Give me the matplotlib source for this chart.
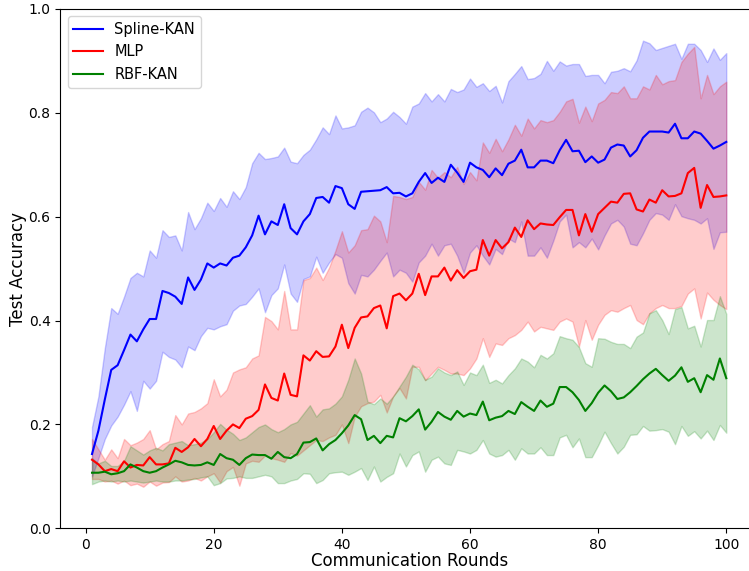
import numpy as np
import matplotlib
matplotlib.use("Agg")
import matplotlib.pyplot as plt

rounds = np.arange(1, 101)

# Spline-KAN
spline_mean = [0.143, 0.188, 0.248, 0.305, 0.314, 0.343, 0.373, 0.360, 0.383, 0.403,
               0.403, 0.457, 0.453, 0.446, 0.432, 0.483, 0.459, 0.479, 0.510, 0.502,
               0.510, 0.506, 0.521, 0.525, 0.541, 0.564, 0.602, 0.566, 0.591, 0.584,
               0.624, 0.578, 0.566, 0.591, 0.605, 0.636, 0.638, 0.627, 0.659, 0.655,
               0.624, 0.615, 0.648, 0.649, 0.650, 0.651, 0.657, 0.645, 0.646, 0.639,
               0.645, 0.667, 0.684, 0.665, 0.675, 0.667, 0.700, 0.685, 0.667, 0.704,
               0.695, 0.690, 0.676, 0.693, 0.680, 0.702, 0.708, 0.729, 0.695, 0.695,
               0.708, 0.708, 0.703, 0.728, 0.748, 0.726, 0.727, 0.705, 0.716, 0.704,
               0.710, 0.733, 0.739, 0.737, 0.716, 0.728, 0.752, 0.764, 0.764, 0.764,
               0.762, 0.779, 0.751, 0.751, 0.764, 0.760, 0.746, 0.731, 0.737, 0.744]
spline_upper = [0.195, 0.254, 0.347, 0.424, 0.413, 0.446, 0.482, 0.492, 0.485, 0.535,
                0.521, 0.574, 0.561, 0.564, 0.535, 0.609, 0.576, 0.597, 0.627, 0.611,
                0.636, 0.619, 0.649, 0.634, 0.657, 0.703, 0.723, 0.711, 0.713, 0.716,
                0.733, 0.706, 0.703, 0.719, 0.729, 0.749, 0.772, 0.759, 0.795, 0.770,
                0.772, 0.776, 0.802, 0.810, 0.801, 0.782, 0.789, 0.802, 0.792, 0.779,
                0.812, 0.818, 0.838, 0.822, 0.836, 0.822, 0.846, 0.840, 0.845, 0.866,
                0.850, 0.857, 0.842, 0.852, 0.820, 0.861, 0.875, 0.890, 0.865, 0.867,
                0.875, 0.900, 0.881, 0.899, 0.891, 0.894, 0.894, 0.871, 0.873, 0.873,
                0.857, 0.879, 0.881, 0.886, 0.880, 0.901, 0.939, 0.934, 0.921, 0.925,
                0.929, 0.933, 0.904, 0.933, 0.933, 0.921, 0.898, 0.924, 0.902, 0.915]
spline_lower = [0.100, 0.135, 0.172, 0.198, 0.215, 0.238, 0.264, 0.226, 0.284, 0.269,
                0.284, 0.340, 0.330, 0.325, 0.310, 0.350, 0.343, 0.370, 0.386, 0.383,
                0.389, 0.393, 0.419, 0.429, 0.432, 0.446, 0.462, 0.416, 0.449, 0.462,
                0.508, 0.452, 0.436, 0.480, 0.485, 0.523, 0.492, 0.512, 0.528, 0.521,
                0.472, 0.452, 0.488, 0.485, 0.498, 0.515, 0.531, 0.485, 0.498, 0.492,
                0.475, 0.512, 0.525, 0.548, 0.525, 0.545, 0.548, 0.525, 0.492, 0.531,
                0.545, 0.525, 0.508, 0.538, 0.528, 0.558, 0.551, 0.591, 0.525, 0.525,
                0.541, 0.521, 0.554, 0.591, 0.604, 0.541, 0.551, 0.541, 0.558, 0.537,
                0.564, 0.587, 0.594, 0.581, 0.548, 0.545, 0.568, 0.594, 0.607, 0.604,
                0.594, 0.624, 0.601, 0.597, 0.594, 0.587, 0.597, 0.538, 0.570, 0.571]

# MLP
mlp_mean = [0.132, 0.123, 0.110, 0.114, 0.110, 0.129, 0.117, 0.122, 0.121, 0.137,
            0.123, 0.123, 0.125, 0.155, 0.147, 0.156, 0.172, 0.158, 0.172, 0.197,
            0.172, 0.188, 0.200, 0.193, 0.211, 0.216, 0.228, 0.277, 0.251, 0.246,
            0.298, 0.257, 0.254, 0.333, 0.323, 0.341, 0.330, 0.331, 0.350, 0.392,
            0.347, 0.386, 0.406, 0.408, 0.424, 0.429, 0.385, 0.447, 0.452, 0.439,
            0.452, 0.490, 0.449, 0.485, 0.485, 0.502, 0.477, 0.497, 0.482, 0.495,
            0.498, 0.555, 0.525, 0.555, 0.539, 0.551, 0.579, 0.561, 0.593, 0.576,
            0.587, 0.585, 0.584, 0.599, 0.613, 0.613, 0.564, 0.605, 0.571, 0.605,
            0.617, 0.629, 0.627, 0.644, 0.645, 0.614, 0.610, 0.633, 0.627, 0.651,
            0.639, 0.640, 0.645, 0.684, 0.694, 0.617, 0.661, 0.638, 0.639, 0.641]
mlp_upper = [0.172, 0.152, 0.132, 0.152, 0.135, 0.172, 0.160, 0.165, 0.172, 0.189,
             0.152, 0.162, 0.168, 0.218, 0.200, 0.221, 0.224, 0.231, 0.241, 0.287,
             0.254, 0.267, 0.300, 0.306, 0.310, 0.327, 0.333, 0.407, 0.399, 0.383,
             0.457, 0.383, 0.383, 0.478, 0.482, 0.502, 0.478, 0.502, 0.535, 0.572,
             0.531, 0.545, 0.574, 0.576, 0.602, 0.591, 0.551, 0.640, 0.638, 0.634,
             0.638, 0.667, 0.652, 0.690, 0.675, 0.686, 0.676, 0.696, 0.663, 0.686,
             0.670, 0.743, 0.723, 0.750, 0.726, 0.749, 0.777, 0.756, 0.789, 0.770,
             0.786, 0.782, 0.786, 0.802, 0.822, 0.827, 0.781, 0.812, 0.784, 0.818,
             0.825, 0.840, 0.838, 0.851, 0.828, 0.828, 0.851, 0.845, 0.873, 0.855,
             0.861, 0.863, 0.898, 0.914, 0.927, 0.828, 0.873, 0.836, 0.851, 0.860]
mlp_lower = [0.095, 0.095, 0.090, 0.092, 0.086, 0.092, 0.083, 0.086, 0.080, 0.090,
             0.082, 0.088, 0.089, 0.100, 0.090, 0.092, 0.097, 0.092, 0.100, 0.106,
             0.088, 0.110, 0.118, 0.082, 0.125, 0.130, 0.128, 0.140, 0.135, 0.132,
             0.128, 0.145, 0.140, 0.150, 0.160, 0.170, 0.168, 0.175, 0.180, 0.200,
             0.164, 0.215, 0.235, 0.241, 0.244, 0.257, 0.223, 0.254, 0.270, 0.250,
             0.311, 0.311, 0.285, 0.298, 0.311, 0.305, 0.298, 0.298, 0.295, 0.308,
             0.327, 0.366, 0.330, 0.356, 0.353, 0.366, 0.372, 0.382, 0.398, 0.379,
             0.388, 0.385, 0.382, 0.398, 0.404, 0.398, 0.350, 0.401, 0.363, 0.392,
             0.411, 0.420, 0.417, 0.424, 0.430, 0.401, 0.393, 0.414, 0.424, 0.430,
             0.424, 0.424, 0.428, 0.452, 0.462, 0.404, 0.454, 0.440, 0.430, 0.422]

# RBF-KAN
rbf_mean = [0.107, 0.107, 0.109, 0.104, 0.106, 0.110, 0.123, 0.117, 0.110, 0.107,
            0.110, 0.117, 0.123, 0.130, 0.127, 0.122, 0.121, 0.122, 0.127, 0.122,
            0.143, 0.135, 0.132, 0.122, 0.135, 0.142, 0.141, 0.141, 0.134, 0.147,
            0.137, 0.135, 0.143, 0.165, 0.166, 0.173, 0.150, 0.162, 0.170, 0.183,
            0.198, 0.218, 0.210, 0.170, 0.178, 0.164, 0.178, 0.175, 0.212, 0.206,
            0.216, 0.229, 0.190, 0.205, 0.224, 0.215, 0.209, 0.226, 0.215, 0.221,
            0.218, 0.244, 0.208, 0.213, 0.216, 0.226, 0.220, 0.243, 0.234, 0.226,
            0.246, 0.234, 0.240, 0.272, 0.272, 0.262, 0.247, 0.226, 0.241, 0.261,
            0.275, 0.264, 0.249, 0.252, 0.262, 0.274, 0.287, 0.298, 0.307, 0.295,
            0.284, 0.294, 0.310, 0.282, 0.289, 0.262, 0.295, 0.286, 0.327, 0.289]
rbf_upper = [0.135, 0.125, 0.130, 0.120, 0.120, 0.130, 0.158, 0.150, 0.142, 0.150,
             0.155, 0.150, 0.162, 0.165, 0.168, 0.160, 0.162, 0.165, 0.172, 0.185,
             0.201, 0.190, 0.182, 0.170, 0.175, 0.185, 0.195, 0.200, 0.191, 0.185,
             0.191, 0.200, 0.205, 0.221, 0.237, 0.215, 0.229, 0.231, 0.240, 0.254,
             0.286, 0.327, 0.298, 0.244, 0.239, 0.250, 0.240, 0.254, 0.273, 0.292,
             0.315, 0.306, 0.286, 0.292, 0.308, 0.300, 0.295, 0.302, 0.276, 0.300,
             0.295, 0.315, 0.280, 0.286, 0.279, 0.295, 0.308, 0.327, 0.321, 0.310,
             0.334, 0.327, 0.337, 0.370, 0.366, 0.363, 0.349, 0.318, 0.311, 0.366,
             0.365, 0.359, 0.355, 0.355, 0.347, 0.369, 0.377, 0.414, 0.420, 0.401,
             0.374, 0.422, 0.426, 0.385, 0.390, 0.350, 0.401, 0.401, 0.447, 0.413]
rbf_lower = [0.085, 0.090, 0.092, 0.090, 0.092, 0.090, 0.092, 0.090, 0.088, 0.090,
             0.092, 0.090, 0.090, 0.092, 0.092, 0.094, 0.095, 0.098, 0.100, 0.083,
             0.087, 0.096, 0.097, 0.100, 0.097, 0.097, 0.100, 0.103, 0.100, 0.087,
             0.087, 0.092, 0.095, 0.106, 0.105, 0.087, 0.093, 0.106, 0.108, 0.109,
             0.103, 0.109, 0.116, 0.093, 0.119, 0.090, 0.099, 0.106, 0.144, 0.119,
             0.141, 0.148, 0.109, 0.132, 0.138, 0.125, 0.122, 0.151, 0.148, 0.144,
             0.151, 0.170, 0.144, 0.138, 0.141, 0.151, 0.132, 0.154, 0.144, 0.144,
             0.156, 0.141, 0.141, 0.175, 0.180, 0.156, 0.173, 0.137, 0.137, 0.160,
             0.186, 0.164, 0.144, 0.157, 0.180, 0.181, 0.197, 0.188, 0.189, 0.191,
             0.186, 0.162, 0.197, 0.178, 0.187, 0.173, 0.188, 0.170, 0.199, 0.184]

fig = plt.figure(figsize=(7.49, 5.71), dpi=100)
ax = fig.add_axes([0.0805, 0.0748, 0.9315, 0.9095])

ax.plot(rounds, spline_mean, color="blue", label="Spline-KAN")
ax.fill_between(rounds, spline_lower, spline_upper, color="blue", alpha=0.2)
ax.plot(rounds, mlp_mean, color="red", label="MLP")
ax.fill_between(rounds, mlp_lower, mlp_upper, color="red", alpha=0.2)
ax.plot(rounds, rbf_mean, color="green", label="RBF-KAN")
ax.fill_between(rounds, rbf_lower, rbf_upper, color="green", alpha=0.2)

ax.set_ylim(0, 1)
ax.set_xlabel("Communication Rounds", fontsize=12, labelpad=0)
ax.set_ylabel("Test Accuracy", fontsize=12, labelpad=1)
ax.legend(loc="upper left", fontsize=10.5)

fig.savefig("out.png", dpi=100)
